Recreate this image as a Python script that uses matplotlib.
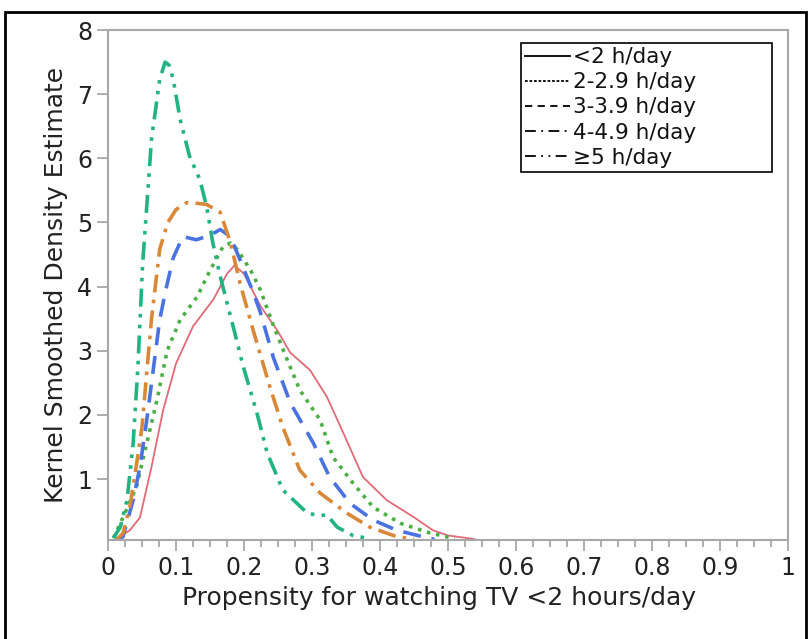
import matplotlib
matplotlib.use('Agg')
import matplotlib.pyplot as plt
import matplotlib.ticker as ticker
from matplotlib.lines import Line2D
from matplotlib.patches import Rectangle

# Data (kernel density curves)
labels = ['<2 h/day', '2-2.9 h/day', '3-3.9 h/day', '4-4.9 h/day', '\u22655 h/day']

x_lt2 = [0.01, 0.032, 0.047, 0.064, 0.081, 0.1, 0.125, 0.155, 0.175, 0.186, 0.2, 0.224, 0.25,
         0.268, 0.297, 0.322, 0.346, 0.375, 0.41, 0.449, 0.478, 0.5, 0.528, 0.54]
y_lt2 = [0.05, 0.2, 0.4, 1.19, 2.07, 2.8, 3.38, 3.8, 4.2, 4.33, 4.2, 3.7, 3.3,
         2.97, 2.7, 2.28, 1.72, 1.03, 0.67, 0.41, 0.2, 0.12, 0.08, 0.06]

x_2to3 = [0.008, 0.022, 0.042, 0.057, 0.072, 0.087, 0.106, 0.131, 0.15, 0.169, 0.18, 0.19, 0.21,
          0.224, 0.243, 0.26, 0.282, 0.312, 0.331, 0.36, 0.39, 0.43, 0.473, 0.498, 0.51]
y_2to3 = [0.08, 0.4, 0.88, 1.56, 2.23, 3.0, 3.48, 3.84, 4.25, 4.62, 4.68, 4.58, 4.25,
          3.95, 3.4, 2.95, 2.39, 1.92, 1.34, 0.94, 0.56, 0.31, 0.16, 0.1, 0.07]

x_3to4 = [0.012, 0.022, 0.037, 0.047, 0.057, 0.066, 0.076, 0.085, 0.096, 0.11, 0.13, 0.15, 0.165,
          0.18, 0.194, 0.214, 0.224, 0.243, 0.268, 0.302, 0.326, 0.356, 0.39, 0.425, 0.463, 0.48]
y_3to4 = [0.05, 0.1, 0.67, 1.19, 1.92, 2.66, 3.48, 3.95, 4.45, 4.78, 4.73, 4.8, 4.89,
          4.78, 4.42, 3.9, 3.6, 2.9, 2.19, 1.56, 1.03, 0.62, 0.36, 0.2, 0.1, 0.06]

x_4to5 = [0.012, 0.022, 0.032, 0.04, 0.05, 0.057, 0.064, 0.076, 0.088, 0.1, 0.116, 0.13, 0.145,
          0.165, 0.18, 0.194, 0.214, 0.238, 0.257, 0.282, 0.312, 0.351, 0.385, 0.425, 0.45]
y_4to5 = [0.05, 0.15, 0.56, 1.09, 1.81, 2.66, 3.5, 4.58, 5.0, 5.2, 5.31, 5.3, 5.28,
          5.16, 4.69, 4.06, 3.3, 2.44, 1.81, 1.14, 0.78, 0.47, 0.25, 0.1, 0.06]

x_ge5 = [0.008, 0.018, 0.028, 0.037, 0.044, 0.047, 0.051, 0.057, 0.064, 0.076, 0.084, 0.09, 0.096,
         0.106, 0.12, 0.135, 0.145, 0.154, 0.165, 0.175, 0.184, 0.199, 0.219, 0.234, 0.257,
         0.293, 0.31, 0.322, 0.337, 0.36, 0.38]
y_ge5 = [0.08, 0.25, 0.67, 1.56, 2.75, 3.45, 4.37, 5.25, 6.3, 7.23, 7.5, 7.45, 7.23,
         6.61, 6.03, 5.67, 5.25, 4.69, 4.16, 3.75, 3.38, 2.75, 2.03, 1.41, 0.83,
         0.47, 0.43, 0.44, 0.25, 0.12, 0.08]

xs = [x_lt2, x_2to3, x_3to4, x_4to5, x_ge5]
ys = [y_lt2, y_2to3, y_3to4, y_4to5, y_ge5]
colors = ['#e06a78', '#4caf46', '#4a72e0', '#d88838', '#22b383']
styles = ['-', (0, (1, 1.6)), (0, (5, 3)), (0, (5, 2, 1, 2)), (0, (5, 2, 1, 2, 1, 2))]
widths = [1.3, 2.6, 2.6, 2.6, 2.6]

fig = plt.figure(figsize=(8.09, 6.39), dpi=100)
ax = fig.add_axes([0.1335, 0.155, 0.8405, 0.798])

for x, y, c, ls, lw in zip(xs, ys, colors, styles, widths):
    ax.plot(x, y, color=c, linestyle=ls, linewidth=lw)

ax.set_xlim(0, 1)
ax.set_ylim(0.05, 8)
ax.xaxis.set_major_locator(ticker.MultipleLocator(0.1))
ax.xaxis.set_minor_locator(ticker.MultipleLocator(0.025))
ax.xaxis.set_major_formatter(ticker.FuncFormatter(lambda v, p: '%g' % round(v, 1)))
ax.set_yticks([1, 2, 3, 4, 5, 6, 7, 8])

for s in ax.spines.values():
    s.set_color('#a8a8a8')
    s.set_linewidth(1.5)
ax.tick_params(which='major', length=8, width=1.3, color='#a8a8a8', labelsize=17, labelcolor='#222222')
ax.tick_params(which='minor', length=5, width=1.3, color='#a8a8a8')

ax.set_xlabel('Propensity for watching TV <2 hours/day', fontsize=18, color='#222222')
ax.xaxis.set_label_coords(0.487, -0.09)
ax.set_ylabel('Kernel Smoothed Density Estimate', fontsize=18, color='#222222', labelpad=6)

handles = [Line2D([], [], color='black', linestyle=ls, linewidth=1.3) for ls in
           ['-', (0, (1.5, 1)), (0, (4, 3)), (0, (6, 3, 1, 3)), (0, (6, 3, 1, 3, 1, 3))]]
leg = ax.legend(handles, labels, loc='upper left', bbox_to_anchor=(0.607, 0.705, 0.369, 0.27),
                mode='expand', fontsize=15.5, handlelength=2.1, handletextpad=0.15,
                labelspacing=0.24, borderpad=0.2, borderaxespad=0, fancybox=False,
                framealpha=1)
leg.get_frame().set_edgecolor('black')
leg.get_frame().set_linewidth(1.2)
for t in leg.get_texts():
    t.set_color('#111111')

# outer frame around the figure
fig.patches.append(Rectangle((5 / 809, -0.01), 801 / 809, 1 - 12 / 639 + 0.01,
                             transform=fig.transFigure, fill=False,
                             edgecolor='black', linewidth=2))

fig.savefig('out.png', dpi=100)
